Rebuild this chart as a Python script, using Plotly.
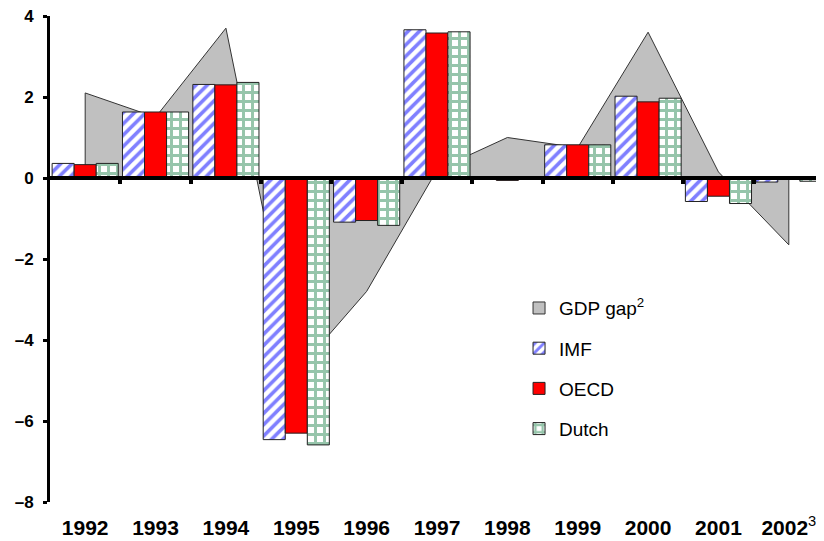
import plotly.graph_objects as go

years = ["1992", "1993", "1994", "1995", "1996", "1997", "1998", "1999", "2000", "2001",
         "2002<sup><span style='font-weight:normal'>3</span></sup>"]
gdp_gap = [2.1, 1.5, 3.7, -4.8, -2.8, 0.2, 1.0, 0.75, 3.6, 0.15, -1.65]
imf = [0.36, 1.63, 2.31, -6.46, -1.09, 3.66, 0.0, 0.82, 2.02, -0.58, -0.10]
oecd = [0.33, 1.63, 2.30, -6.30, -1.05, 3.58, -0.06, 0.82, 1.88, -0.45, 0.0]
dutch = [0.36, 1.63, 2.36, -6.59, -1.17, 3.61, 0.0, 0.82, 1.97, -0.63, -0.08]
y_ticks = [-8, -6, -4, -2, 0, 2, 4]
y_tick_text = ["–8", "–6", "–4", "–2", "0", "2", "4"]

n = len(years)
idx = list(range(n))
FONT = "Liberation Sans, Arial, sans-serif"

fig = go.Figure()

# GDP gap area on the base x axis (drawn beneath the bars' overlay axis)
fig.add_trace(go.Scatter(
    x=[idx[0]] + idx + [idx[-1]],
    y=[0] + gdp_gap + [0],
    mode="lines", fill="toself", fillcolor="#C0C0C0",
    line=dict(color="#333333", width=1),
    showlegend=False, hoverinfo="skip",
))
# legend entry for the GDP gap (no visible marks)
fig.add_trace(go.Bar(
    x=idx, y=[None] * n, name="GDP gap<sup>2</sup>", legendgroup="a",
    marker=dict(color="#C0C0C0", line=dict(color="#333333", width=1)),
    legendrank=1, hoverinfo="skip",
))

fig.add_trace(go.Bar(
    x=idx, y=imf, name="IMF", legendgroup="b", xaxis="x2", legendrank=2,
    marker=dict(color="white", line=dict(color="#222222", width=1),
                pattern=dict(shape="/", fgcolor="#0000FF", bgcolor="white", size=8, solidity=0.45)),
))
fig.add_trace(go.Bar(
    x=idx, y=oecd, name="OECD", legendgroup="c", xaxis="x2", legendrank=3,
    marker=dict(color="#FF0000", line=dict(color="#222222", width=1)),
))
fig.add_trace(go.Bar(
    x=idx, y=dutch, name="Dutch", legendgroup="d", xaxis="x2", legendrank=4,
    marker=dict(color="white", line=dict(color="#222222", width=1),
                pattern=dict(shape="+", fgcolor="#2E8B57", bgcolor="white", size=9, solidity=0.55)),
))

fig.update_layout(
    width=816, height=533,
    margin=dict(l=42, r=0, t=8, b=39, autoexpand=False),
    paper_bgcolor="white", plot_bgcolor="white",
    barmode="group", bargap=0.06, bargroupgap=0,
    font=dict(family=FONT, color="black"),
    showlegend=True,
    legend=dict(
        x=0.606, y=0.438, xanchor="left", yanchor="top",
        font=dict(family=FONT, size=19, color="black"),
        traceorder="grouped", tracegroupgap=12.5,
        bgcolor="rgba(0,0,0,0)",
    ),
    xaxis=dict(
        range=[-0.5, n - 0.5], tickvals=idx, ticktext=years, automargin=False,
        showline=False, showgrid=False, zeroline=False, ticks="",
        tickfont=dict(family=FONT, size=21, color="black", weight="bold"),
        ticklabelstandoff=11, ticklabeloverflow="allow",
    ),
    xaxis2=dict(
        range=[-0.5, n - 0.5], overlaying="x", anchor="free", position=8 / 12,
        showline=True, linecolor="black", linewidth=4, automargin=False,
        tickvals=[i + 0.5 for i in idx[:-1]], ticks="outside", ticklen=4, tickwidth=4, tickcolor="black",
        showticklabels=False, showgrid=False, zeroline=False,
    ),
    yaxis=dict(
        range=[-8, 4], tickvals=y_ticks, ticktext=y_tick_text, automargin=False,
        showline=True, linecolor="black", linewidth=3,
        ticks="outside", ticklen=4, tickwidth=3, tickcolor="black",
        showgrid=False, zeroline=False,
        tickfont=dict(family=FONT, size=17, color="black", weight="bold"),
        ticklabelstandoff=6, ticklabeloverflow="allow",
    ),
)

fig.write_html("out.html")
